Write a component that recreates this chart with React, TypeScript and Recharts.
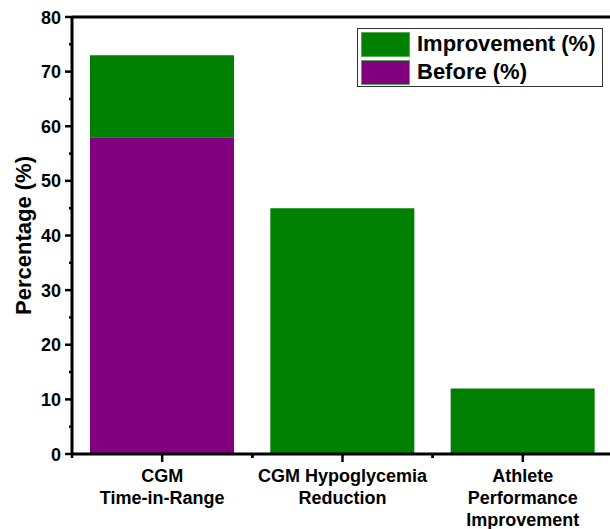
import React from 'react';
import { BarChart, Bar, XAxis, YAxis, ReferenceLine } from 'recharts';

const CATEGORIES = ['CGM\nTime-in-Range', 'CGM Hypoglycemia\nReduction', 'Athlete\nPerformance\nImprovement'];
const BEFORE = [58, 0, 0];
const IMPROVEMENT = [15, 45, 12];
const Y_TICKS = [0, 5, 10, 15, 20, 25, 30, 35, 40, 45, 50, 55, 60, 65, 70, 75, 80];
const LEGEND_ITEMS = [
  { label: 'Improvement (%)', color: '#008000' },
  { label: 'Before (%)', color: '#800080' },
];

const data = CATEGORIES.map((name, i) => ({ name, before: BEFORE[i], improvement: IMPROVEMENT[i] }));

const FONT = 'Arial, "Liberation Sans", sans-serif';

// recharts passes tick positions already shifted by tickSize (6) + tickMargin (2)
const YTick = (props: any) => {
  const { x, y, payload } = props;
  const ax = x + 8;
  const major = payload.value % 10 === 0;
  return (
    <g>
      <line x1={ax - (major ? 7 : 3)} x2={ax} y1={y} y2={y} stroke="#000" strokeWidth={2.5} />
      {major && (
        <text x={x - 3} y={y} dy={6.5} textAnchor="end" fontFamily={FONT} fontWeight="bold" fontSize={18} fill="#000">
          {payload.value}
        </text>
      )}
    </g>
  );
};

const XTick = (props: any) => {
  const { x, y, payload } = props;
  const ay = y - 8;
  const off = payload.offset || 0;
  const lines = String(payload.value).split('\n');
  return (
    <g>
      <line x1={x} x2={x} y1={ay} y2={ay + 8} stroke="#000" strokeWidth={2.5} />
      <line x1={x + off} x2={x + off} y1={ay} y2={ay + 4} stroke="#000" strokeWidth={2.5} />
      <line x1={x - off} x2={x - off} y1={ay} y2={ay + 4} stroke="#000" strokeWidth={2.5} />
      <text x={x} y={ay + 28} textAnchor="middle" fontFamily={FONT} fontWeight="bold" fontSize={18} fill="#000">
        {lines.map((l, i) => (
          <tspan key={i} x={x} dy={i === 0 ? 0 : 22}>{l}</tspan>
        ))}
      </text>
    </g>
  );
};

const LegendBox = () => (
  <div style={{ position: 'absolute', left: 357, top: 28, width: 246, height: 59, border: '1px solid #333', background: '#fff', padding: '1px 0 0 3px', fontFamily: FONT, boxSizing: 'border-box' }}>
    {LEGEND_ITEMS.map((it) => (
      <div key={it.label} style={{ display: 'flex', alignItems: 'center', height: 28 }}>
        <div style={{ width: 49, height: 25, background: it.color, border: '1px solid #5a5', boxSizing: 'border-box', marginRight: 7 }} />
        <span style={{ fontWeight: 'bold', fontSize: 22, color: '#000', whiteSpace: 'nowrap' }}>{it.label}</span>
      </div>
    ))}
  </div>
);

export default function App() {
  return (
    <div style={{ position: 'fixed', left: 0, top: 0, width: 610, height: 529, background: '#fff' }}>
      <BarChart width={610} height={529} data={data} margin={{ top: 17, right: -3, left: 0, bottom: 0 }} barCategoryGap={18}>
        <XAxis dataKey="name" height={75} interval={0} tick={<XTick />} tickLine={false} axisLine={{ stroke: '#000', strokeWidth: 3 }} />
        <YAxis
          width={72}
          domain={[0, 80]}
          ticks={Y_TICKS}
          interval={0}
          tick={<YTick />}
          tickLine={false}
          axisLine={{ stroke: '#000', strokeWidth: 3 }}
          label={{ value: 'Percentage (%)', angle: -90, position: 'center', dx: -13, style: { fontFamily: FONT, fontWeight: 'bold', fontSize: 22, fill: '#000' } }}
        />
        <ReferenceLine y={80} stroke="#000" strokeWidth={3} />
        <Bar dataKey="before" stackId="a" fill="#800080" isAnimationActive={false} />
        <Bar dataKey="improvement" stackId="a" fill="#008000" isAnimationActive={false} />
      </BarChart>
      <LegendBox />
    </div>
  );
}
